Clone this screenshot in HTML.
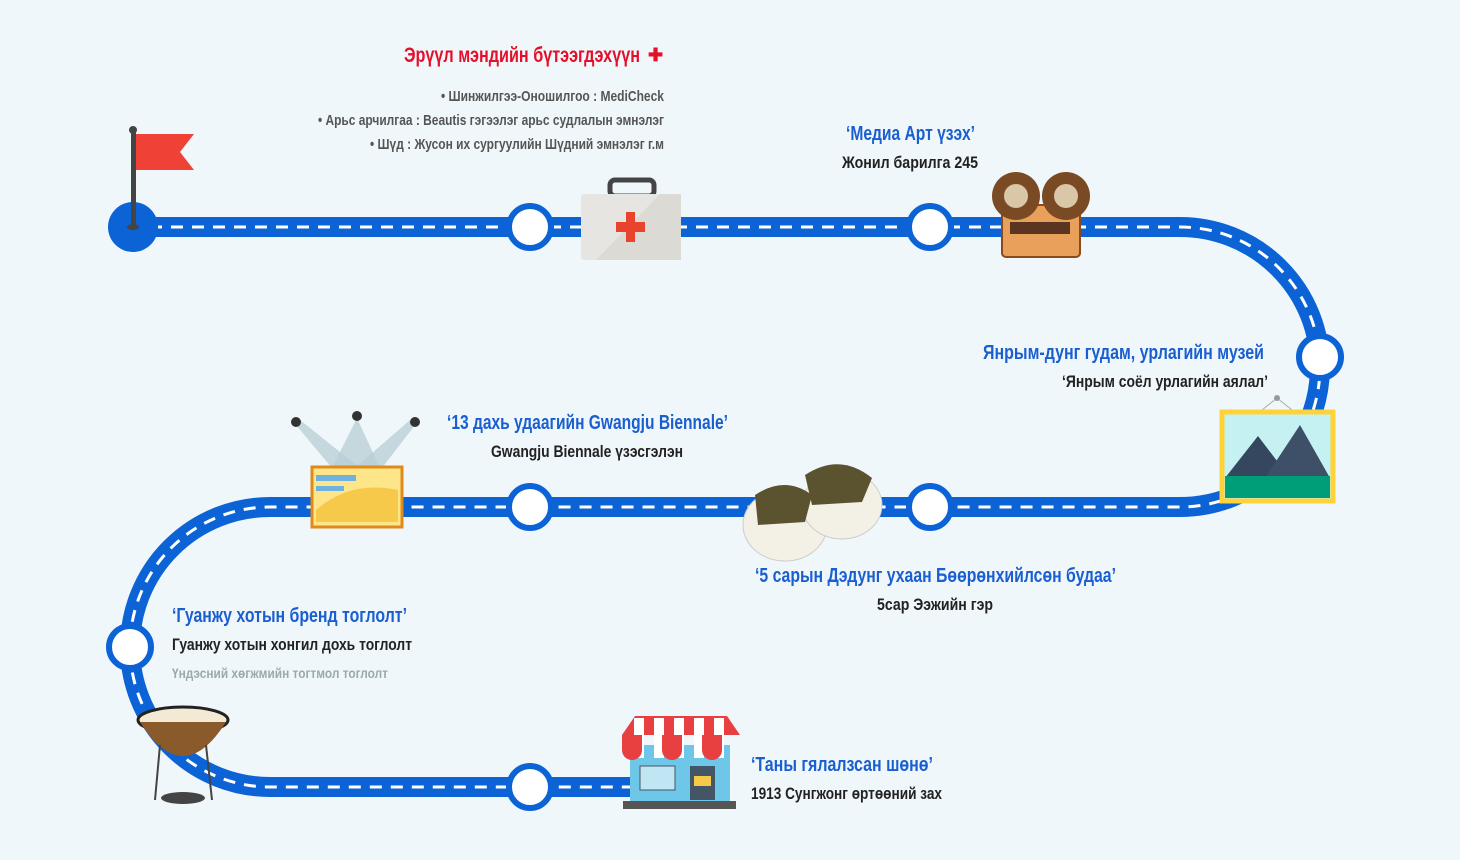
<!DOCTYPE html>
<html><head><meta charset="utf-8"><style>
html,body{margin:0;padding:0;background:#f0f7fb;}
svg{display:block}
text{font-family:"Liberation Sans Narrow","Liberation Sans",sans-serif;font-weight:bold;}
.b{fill:#1a5fd0;font-size:20px}
.k{fill:#222;font-size:17px}
.g{fill:#555;font-size:15px}
</style></head><body>
<svg width="1460" height="860" viewBox="0 0 1460 860" xmlns="http://www.w3.org/2000/svg">
<rect width="1460" height="860" fill="#f0f7fb"/>
<path d="M133 227 H1180 A140 140 0 0 1 1180 507 H270 A140 140 0 0 0 270 787 H640" fill="none" stroke="#0c63d6" stroke-width="20"/>
<path d="M150 227 H1180 A140 140 0 0 1 1180 507 H270 A140 140 0 0 0 270 787 H640" fill="none" stroke="#fff" stroke-width="3" stroke-dasharray="12 9"/>
<circle cx="133" cy="227" r="25" fill="#0c63d6"/>
<g fill="#fff" stroke="#0c63d6" stroke-width="6">
<circle cx="530" cy="227" r="21"/><circle cx="930" cy="227" r="21"/><circle cx="1320" cy="357" r="21"/>
<circle cx="930" cy="507" r="21"/><circle cx="530" cy="507" r="21"/><circle cx="130" cy="647" r="21"/><circle cx="530" cy="787" r="21"/>
</g>
<rect x="131" y="130" width="5" height="97" fill="#444"/><circle cx="133" cy="130" r="4" fill="#444"/><ellipse cx="133" cy="227" rx="6" ry="3" fill="#444"/>
<polygon points="136,134 194,134 180,152 194,170 136,170" fill="#ef4136"/>
<rect x="610" y="180" width="44" height="16" rx="5" fill="none" stroke="#444" stroke-width="5"/>
<rect x="581" y="194" width="100" height="66" rx="3" fill="#e6e5e1"/>
<polygon points="681,194 681,260 596,260 660,194" fill="#dcdad4"/>
<rect x="626" y="212" width="9" height="30" fill="#e8432d"/><rect x="616" y="222" width="29" height="10" fill="#e8432d"/>
<rect x="1002" y="205" width="78" height="52" rx="4" fill="#e8a05a" stroke="#8b4a1e" stroke-width="2"/>
<circle cx="1016" cy="196" r="24" fill="#7a4a24"/><circle cx="1016" cy="196" r="12" fill="#d9c7a8"/>
<circle cx="1066" cy="196" r="24" fill="#7a4a24"/><circle cx="1066" cy="196" r="12" fill="#d9c7a8"/>
<rect x="1010" y="222" width="60" height="12" fill="#5a3520"/>
<line x1="1277" y1="398" x2="1262" y2="410" stroke="#aaa"/><line x1="1277" y1="398" x2="1292" y2="410" stroke="#aaa"/><circle cx="1277" cy="398" r="3" fill="#999"/>
<rect x="1222" y="412" width="111" height="89" fill="#c6f1f3" stroke="#ffd338" stroke-width="5"/>
<polygon points="1225,478 1258,436 1290,478" fill="#34475e"/><polygon points="1265,478 1300,425 1330,478" fill="#3d5068"/>
<rect x="1225" y="476" width="105" height="22" fill="#009e78"/>
<polygon points="296,425 332,468 360,468 300,420" fill="#b9d0d6" opacity=".8"/>
<polygon points="357,418 332,468 380,468" fill="#b9d0d6" opacity=".8"/>
<polygon points="415,425 382,468 355,468 410,420" fill="#b9d0d6" opacity=".8"/>
<circle cx="296" cy="422" r="5" fill="#333"/><circle cx="357" cy="416" r="5" fill="#333"/><circle cx="415" cy="422" r="5" fill="#333"/>
<rect x="312" y="467" width="90" height="60" fill="#fde58a" stroke="#e08a1a" stroke-width="3"/>
<path d="M316 510 Q350 480 398 490 L398 522 L316 522Z" fill="#f6c94a"/>
<rect x="316" y="475" width="40" height="6" fill="#6fb1e0"/><rect x="316" y="486" width="28" height="5" fill="#6fb1e0"/>
<ellipse cx="785" cy="525" rx="42" ry="36" fill="#f3f1e6" stroke="#ccc"/>
<ellipse cx="842" cy="505" rx="40" ry="34" fill="#f3f1e6" stroke="#ccc"/>
<path d="M755 495 Q785 475 812 495 L805 522 L758 525Z" fill="#5b5330"/>
<path d="M805 475 Q840 452 872 478 L862 502 L812 505Z" fill="#5b5330"/>
<ellipse cx="183" cy="720" rx="45" ry="13" fill="#f2ead4" stroke="#222" stroke-width="3"/>
<path d="M140 722 Q183 790 226 722" fill="#8a5a2a"/>
<line x1="160" y1="745" x2="155" y2="800" stroke="#444" stroke-width="2"/><line x1="206" y1="745" x2="212" y2="800" stroke="#444" stroke-width="2"/>
<ellipse cx="183" cy="798" rx="22" ry="6" fill="#444"/>
<rect x="630" y="745" width="100" height="57" fill="#6ec6e8"/>
<path d="M622 735 L635 716 H727 L740 735 Z" fill="#e84040"/>
<g fill="#fff"><rect x="634" y="718" width="10" height="40"/><rect x="654" y="718" width="10" height="40"/><rect x="674" y="718" width="10" height="40"/><rect x="694" y="718" width="10" height="40"/><rect x="714" y="718" width="10" height="40"/></g>
<g fill="#e84040"><path d="M622 735 v15 a10 10 0 0 0 20 0 v-15z"/><path d="M662 735 v15 a10 10 0 0 0 20 0 v-15z"/><path d="M702 735 v15 a10 10 0 0 0 20 0 v-15z"/></g>
<rect x="640" y="766" width="35" height="24" fill="#bfe6f2" stroke="#456"/><rect x="690" y="766" width="25" height="34" fill="#456"/><rect x="694" y="776" width="17" height="10" fill="#f6c94a"/>
<rect x="623" y="801" width="113" height="8" fill="#555"/>
<text x="404" y="62" fill="#e4102b" font-size="21" textLength="236" lengthAdjust="spacingAndGlyphs">Эрүүл мэндийн бүтээгдэхүүн</text>
<text x="648" y="61" fill="#e4102b" font-size="18">✚</text>
<text x="441" y="101" class="g" textLength="223" lengthAdjust="spacingAndGlyphs">• Шинжилгээ-Оношилгоо : MediCheck</text>
<text x="318" y="125" class="g" textLength="346" lengthAdjust="spacingAndGlyphs">• Арьс арчилгаа : Beautis гэгээлэг арьс судлалын эмнэлэг</text>
<text x="370" y="149" class="g" textLength="294" lengthAdjust="spacingAndGlyphs">• Шүд : Жусон их сургуулийн Шүдний эмнэлэг г.м</text>
<text x="846" y="140" class="b" textLength="129" lengthAdjust="spacingAndGlyphs">‘Медиа Арт үзэх’</text>
<text x="842" y="168" class="k" textLength="136" lengthAdjust="spacingAndGlyphs">Жонил барилга 245</text>
<text x="983" y="359" class="b" textLength="281" lengthAdjust="spacingAndGlyphs">Янрым-дунг гудам, урлагийн музей</text>
<text x="1062" y="387" class="k" textLength="206" lengthAdjust="spacingAndGlyphs">‘Янрым соёл урлагийн аялал’</text>
<text x="447" y="429" class="b" textLength="281" lengthAdjust="spacingAndGlyphs">‘13 дахь удаагийн Gwangju Biennale’</text>
<text x="491" y="457" class="k" textLength="192" lengthAdjust="spacingAndGlyphs">Gwangju Biennale үзэсгэлэн</text>
<text x="755" y="582" class="b" textLength="361" lengthAdjust="spacingAndGlyphs">‘5 сарын Дэдунг ухаан Бөөрөнхийлсөн будаа’</text>
<text x="877" y="610" class="k" textLength="116" lengthAdjust="spacingAndGlyphs">5сар Ээжийн гэр</text>
<text x="172" y="622" class="b" textLength="235" lengthAdjust="spacingAndGlyphs">‘Гуанжу хотын бренд тоглолт’</text>
<text x="172" y="650" class="k" textLength="240" lengthAdjust="spacingAndGlyphs">Гуанжу хотын хонгил дохь тоглолт</text>
<text x="172" y="678" fill="#9aa" font-size="14" textLength="216" lengthAdjust="spacingAndGlyphs">Үндэсний хөгжмийн тогтмол тоглолт</text>
<text x="751" y="771" class="b" textLength="182" lengthAdjust="spacingAndGlyphs">‘Таны гялалзсан шөнө’</text>
<text x="751" y="799" class="k" textLength="191" lengthAdjust="spacingAndGlyphs">1913 Сунгжонг өртөөний зах</text>
</svg>
</body></html>
